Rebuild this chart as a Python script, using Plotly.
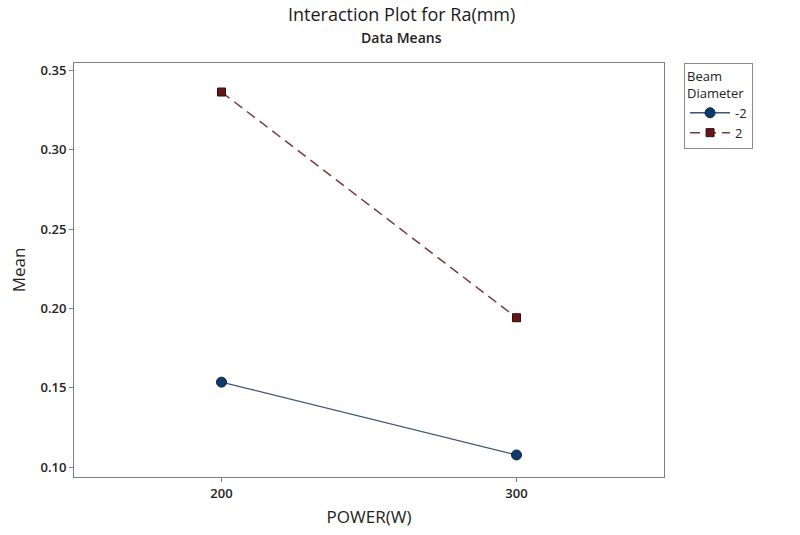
import plotly.graph_objects as go

power = [200, 300]
series_names = ["-2", "2"]
mean_neg2 = [0.1535, 0.1076]
mean_pos2 = [0.3364, 0.1941]
x_ticks = [200, 300]
y_ticks = [0.10, 0.15, 0.20, 0.25, 0.30, 0.35]
y_tick_labels = ["0.10", "0.15", "0.20", "0.25", "0.30", "0.35"]
title_text = "Interaction Plot for Ra(mm)"
subtitle_text = "Data Means"
legend_title = "Beam<br>Diameter"

FONT = "Open Sans"

fig = go.Figure()
fig.add_trace(go.Scatter(
    x=power, y=mean_neg2, name=series_names[0], mode="lines+markers",
    line=dict(color="#3A5577", width=1.3, dash="solid"),
    marker=dict(symbol="circle", size=10, color="#0E3A6C",
                line=dict(color="#0A2445", width=1)),
))
fig.add_trace(go.Scatter(
    x=power, y=mean_pos2, name=series_names[1], mode="lines+markers",
    line=dict(color="#7A3A3A", width=1.5, dash="10px,6px"),
    marker=dict(symbol="square", size=8, color="#6A1515",
                line=dict(color="#2A1010", width=1)),
))

fig.update_layout(
    width=800, height=535,
    margin=dict(l=74, r=136, t=63, b=58),
    paper_bgcolor="white", plot_bgcolor="white",
    font=dict(family=FONT, color="#222222"),
    showlegend=True,
    legend=dict(
        title=dict(text=legend_title, font=dict(size=13, family=FONT)),
        x=1.034, xanchor="left", y=1.0, yanchor="top",
        bordercolor="#8C8C8C", borderwidth=1, bgcolor="white",
        font=dict(size=13, family=FONT), tracegroupgap=0,
        itemwidth=40,
    ),
    annotations=[
        dict(text=title_text, xref="paper", yref="paper", x=0.555, y=1.0,
             yshift=35, xanchor="center", yanchor="bottom", showarrow=False,
             font=dict(size=18, family=FONT, color="#1A1A1A")),
        dict(text=subtitle_text, xref="paper", yref="paper", x=0.555, y=1.0,
             yshift=14, xanchor="center", yanchor="bottom", showarrow=False,
             font=dict(size=14, family=FONT, weight=600, color="#222222")),
    ],
)

fig.update_xaxes(
    range=[150, 350], tickvals=x_ticks, ticktext=[str(v) for v in x_ticks],
    showgrid=False, zeroline=False,
    showline=True, linecolor="#7F7F7F", linewidth=1, mirror=True,
    ticks="outside", ticklen=4, tickcolor="#7F7F7F",
    tickfont=dict(size=13, family=FONT, weight=600, color="#222222"),
    title=dict(text="POWER(W)", font=dict(size=17, family=FONT), standoff=10),
)
fig.update_yaxes(
    range=[0.0937, 0.3547], tickvals=y_ticks, ticktext=y_tick_labels,
    showgrid=False, zeroline=False,
    showline=True, linecolor="#7F7F7F", linewidth=1, mirror=True,
    ticks="outside", ticklen=4, tickcolor="#7F7F7F",
    tickfont=dict(size=13, family=FONT, weight=600, color="#222222"),
    title=dict(text="Mean", font=dict(size=17, family=FONT), standoff=10),
)

fig.write_html("out.html", config={"displayModeBar": False},
               post_script="document.body.style.margin='0px';")
